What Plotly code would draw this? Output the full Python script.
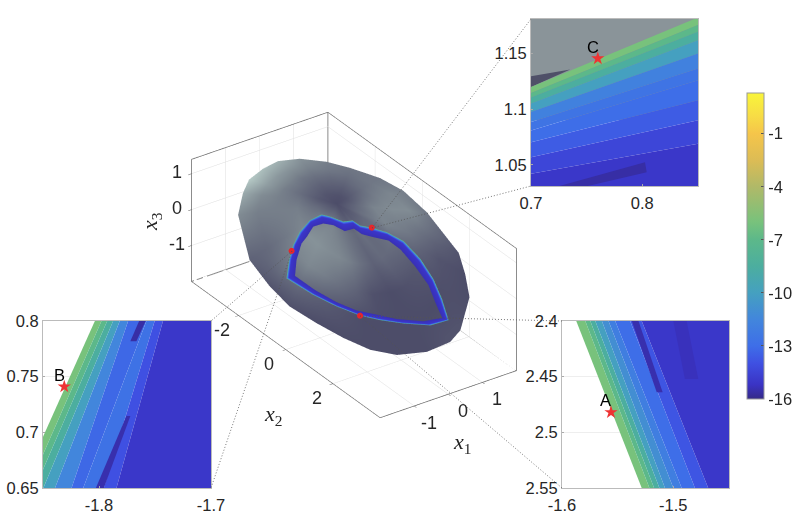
import plotly.graph_objects as go

OUTLINE_X1 = [-.41,-.05,.28,.63,.97,1.22,1.50,1.65,1.67,1.53,1.31,1.03,.41,.09,-.39,-.87,-1.18,-1.39,-1.56,-1.70,-1.69,-1.59,-1.09,-.70]
OUTLINE_X2 = [-3.86,-3.79,-3.63,-3.21,-2.57,-1.93,-1.07,-.29,.68,2.23,2.82,3.41,3.92,3.95,3.66,3.08,2.39,1.56,.66,-.27,-1.13,-2.13,-3.34,-3.70]
DIMPLE = [0.50, -1.45]  # centre of the dark dimple in x1, x2
RINGS = [0, .2, .4, .6, .8, 1]
RING_DEPTH = [-.5, -.2, .1, .2, .15, 0]
SHADE = [  # one row per outline point, from the outer edge to the dimple
 [.95,.6,.35,.22,.08],[.85,.55,.35,.2,.08],[.75,.5,.3,.18,.06],[.5,.38,.25,.14,.05],
 [.35,.3,.2,.12,.04],[.3,.25,.18,.1,.03],[.3,.3,.25,.15,.05],[.35,.4,.35,.25,.1],
 [.3,.45,.45,.38,.18],[.05,.15,.3,.4,.25],[0,.05,.2,.3,.2],[0,.03,.1,.25,.2],
 [.05,0,.05,.2,.2],[.05,0,.03,.2,.25],[0,0,0,.15,.2],[0,0,.03,.25,.25],
 [0,0,.15,.35,.3],[0,.05,.25,.42,.35],[0,.12,.35,.45,.4],[.03,.2,.42,.5,.4],
 [.05,.25,.4,.5,.35],[.15,.2,.3,.4,.3],[.45,.35,.35,.35,.2],[.7,.45,.35,.28,.12]]
BAND_OUT_X1 = [-1.33,-1.02,-.74,-.45,-.13,.12,.21,.33,.48,.51,.65,.80,.91,.89,.78,.61,.39,.05,-.31,-.60,-.82,-1.02,-1.19,-1.33]
BAND_OUT_X2 = [-.94,-1.28,-1.51,-1.65,-1.68,-1.55,-1.33,-.93,-.75,-.49,-.18,.24,.79,1.53,2.24,2.85,3.45,3.17,2.55,1.97,1.44,.75,-.01,-.94]
BAND_IN_X1 = [-1.17,-.91,-.60,-.42,-.18,.01,.13,.21,.378,.41,.53,.70,.74,.70,.62,.45,.33,.01,-.34,-.60,-.79,-.96,-1.09,-1.17]
BAND_IN_X2 = [-.81,-1.12,-1.36,-1.39,-1.47,-1.32,-1.07,-.69,-.547,-.26,.05,.45,.91,1.58,2.25,2.82,3.26,2.93,2.31,1.70,1.27,.65,-.07,-.81]
BAND_FRACTION = [0, .05, .14, .3, 1]
BAND_VALUE = [-6, -9, -13, -15, -15.4]
RED_X1 = [.65, -.85, -.82]
RED_X2 = [-.19, -1.42, 1.44]
PLANE = [.63, -.166]
VIEW = [-.495, .716, .502]
LIFT = .4
BOX_X1 = [-2, 2]
BOX_X2 = [-4, 4]
BOX_X3 = [-2, 1.4]
TICKS_X1 = [-1, 0, 1]
TICKS_X2 = [-2, 0, 2]
TICKS_X3 = [-1, 0, 1]

CB_TICKS = [-1, -4, -7, -10, -13, -16]
CB_SCALE = [(-16,'#352a87'),(-15.2,'#3a33c4'),(-14,'#3f50e2'),(-13,'#3e6ee8'),(-11.5,'#4286dc'),
            (-10,'#45a0c0'),(-8.5,'#4cae9f'),(-7,'#5cb88a'),(-6,'#78c27c'),(-4,'#b0b968'),
            (-2.5,'#dcbc55'),(-1,'#f5c54a'),(0,'#f7dc45'),(1.3,'#f9f53a')]

B_TOP = [-1.8037,-1.7978,-1.7927,-1.7874,-1.7815,-1.774,-1.7577,-1.7503,-1.7429,-1.70]
B_BOT = [-1.8705,-1.8631,-1.8571,-1.8497,-1.8393,-1.8245,-1.8141,-1.7957,-1.7844,-1.70]
B_LEVEL = [-6,-7,-8.5,-10,-11.5,-13.2,-12.7,-14,-15]
B_STRIPES = [([-1.7642,-1.7583,-1.7666,-1.772],[.8,.8,.7817,.7817],-15.6),
             ([-1.7755,-1.772,-1.7957,-1.8028],[.7147,.7147,.65,.65],-15.5)]
B_STAR = (-1.831, .741)
A_TOP = [-1.5872,-1.5791,-1.5746,-1.5701,-1.5642,-1.5582,-1.5522,-1.5388,-1.5284,-1.45]
A_BOT = [-1.5284,-1.5215,-1.5173,-1.5125,-1.5075,-1.5,-1.4925,-1.4806,-1.4687,-1.45]
A_LEVEL = [-6,-7,-8.5,-10,-11,-12,-13,-13.8,-15]
A_STRIPES = [([-1.5373,-1.5313,-1.5096,-1.5149],[2.4,2.4,2.464,2.464],-15.5),
             ([-1.5,-1.4881,-1.4776,-1.4896],[2.4,2.4,2.452,2.452],-15.3)]
A_STAR = (-1.556, 2.482)
C_LEFT = [1.12,1.1146,1.1104,1.105,1.0974,1.0884,1.0809,1.0704,1.0569,1.0419,1.0]
C_RIGHT = [1.1824,1.1755,1.1695,1.162,1.15,1.1365,1.126,1.108,1.09,1.0689,1.0]
C_LEVEL = [-6,-7,-8.5,-10,-11.8,-12.6,-13,-13.6,-14.4,-15]
C_WEDGE = ([.7,.7352,.7], [1.1296,1.1356,1.12])
C_STRIPES = [([.7248,.8024,.8039,.7501],[1.0308,1.0524,1.0434,1.0308],-15.6)]
C_STAR = (.76, 1.1455)

def hex2(c): return [int(c[i:i+2],16) for i in (1,3,5)]
def cval(v):
    for (a,ca),(b,cb) in zip(CB_SCALE, CB_SCALE[1:]):
        if a <= v <= b:
            t=(v-a)/(b-a); A,B=hex2(ca),hex2(cb)
            return 'rgb(%d,%d,%d)'%tuple(A[i]+t*(B[i]-A[i]) for i in range(3))
    return CB_SCALE[-1][1]
PLOTLY_SCALE = [[(v+16)/17.3, c] for v,c in CB_SCALE]

def lifted(a, b, d):
    c = PLANE[0]*a + PLANE[1]*b
    return a+d*VIEW[0], -(b+d*VIEW[1]), c+d*VIEW[2]   # x2 axis runs towards the viewer

fig = go.Figure()
# back edges of the box (x1 max, x2 min, x3 min corner)
cx, cy, cz = BOX_X1[1], -BOX_X2[0], BOX_X3[0]
fig.add_scatter3d(x=[BOX_X1[0],cx,BOX_X1[1],cx,cx],y=[cy,cy,-BOX_X2[1],cy,cy],z=[cz,cz,cz,cz,BOX_X3[1]],
    mode='lines',line=dict(color='#8a8a8a',width=2),hoverinfo='skip',showlegend=False)
# torus body
sx, sy, sz, sc = [], [], [], []
for r, (f, d) in enumerate(zip(RINGS, RING_DEPTH)):
    rx, ry, rz, rc = [], [], [], []
    for i in list(range(len(OUTLINE_X1)))+[0]:
        a = DIMPLE[0]+f*(OUTLINE_X1[i]-DIMPLE[0]); b = DIMPLE[1]+f*(OUTLINE_X2[i]-DIMPLE[1])
        p = lifted(a,b,d); rx.append(p[0]); ry.append(p[1]); rz.append(p[2])
        rc.append(0 if r==0 else SHADE[i][len(RINGS)-1-r])
    sx.append(rx); sy.append(ry); sz.append(rz); sc.append(rc)
fig.add_surface(x=sx,y=sy,z=sz,surfacecolor=sc,cmin=0,cmax=1,showscale=False,hoverinfo='skip',
    colorscale=[[0,'#4d4d69'],[.4,'#7c868f'],[1,'#bbd0cb']],
    lighting=dict(ambient=1,diffuse=0,specular=0,roughness=1,fresnel=0))
# band with colour bar
bx, by, bz, bc = [], [], [], []
for f, v in zip(BAND_FRACTION, BAND_VALUE):
    rx, ry, rz = [], [], []
    for ao, bo, ai, bi in zip(BAND_OUT_X1,BAND_OUT_X2,BAND_IN_X1,BAND_IN_X2):
        p = lifted(ao+f*(ai-ao), bo+f*(bi-bo), LIFT); rx.append(p[0]); ry.append(p[1]); rz.append(p[2])
    bx.append(rx); by.append(ry); bz.append(rz); bc.append([v]*len(rx))
fig.add_surface(x=bx,y=by,z=bz,surfacecolor=bc,cmin=-16,cmax=1.3,colorscale=PLOTLY_SCALE,hoverinfo='skip',
    lighting=dict(ambient=1,diffuse=0,specular=0,roughness=1,fresnel=0),
    colorbar=dict(x=747/800,xanchor='left',xpad=0,ypad=0,y=1-246/517,yanchor='middle',
        thicknessmode='pixels',thickness=17,lenmode='pixels',len=306,
        tickvals=CB_TICKS,ticktext=[str(t) for t in CB_TICKS],ticks='inside',ticklen=3,tickcolor='#555',
        outlinecolor='#999',outlinewidth=1,tickfont=dict(family='Liberation Sans',size=16.5,color='#262626')))
# red points on the band
pts=[lifted(a,b,LIFT+.1) for a,b in zip(RED_X1,RED_X2)]
fig.add_scatter3d(x=[p[0] for p in pts],y=[p[1] for p in pts],z=[p[2] for p in pts],mode='markers',
    marker=dict(size=3.5,color='#e8262a',line=dict(width=0)),hoverinfo='skip',showlegend=False)

def strip(xaxis,yaxis,xs,ys,v=None,color=None):
    fig.add_scatter(x=xs,y=ys,xaxis=xaxis,yaxis=yaxis,mode='lines',line=dict(width=0),fill='toself',
        fillcolor=color or cval(v),hoverinfo='skip',showlegend=False)
stars=[]
def star(xaxis,yaxis,p,label):
    fig.add_scatter(x=[p[0]],y=[p[1]],xaxis=xaxis,yaxis=yaxis,mode='markers',
        marker=dict(symbol='star',size=10,color='#ee3333',line=dict(width=0)),hoverinfo='skip',showlegend=False,cliponaxis=False)
    stars.append(dict(x=p[0],y=p[1],xref=xaxis,yref=yaxis,text=label,showarrow=False,xanchor='center',yanchor='middle',
        xshift=-5,yshift=12,font=dict(family='Liberation Sans',size=16.5,color='black')))

# inset B
for i,v in enumerate(B_LEVEL):
    strip('x2','y2',[B_TOP[i],B_TOP[i+1],B_BOT[i+1],B_BOT[i]],[.8,.8,.65,.65],v)
for xs,ys,v in B_STRIPES: strip('x2','y2',xs,ys,v)
star('x2','y2',B_STAR,'B')
# inset A
for i,v in enumerate(A_LEVEL):
    strip('x3','y3',[A_TOP[i],A_TOP[i+1],A_BOT[i+1],A_BOT[i]],[2.4,2.4,2.55,2.55],v)
for xs,ys,v in A_STRIPES: strip('x3','y3',xs,ys,v)
star('x3','y3',A_STAR,'A')
# inset C
strip('x4','y4',[.7,.85,.85,.7],[1.19,1.19,C_LEFT[0]-.03,C_LEFT[0]-.03],color='#8a9499')
strip('x4','y4',C_WEDGE[0],C_WEDGE[1],color='#4f5068')
for i,v in enumerate(C_LEVEL):
    strip('x4','y4',[.7,.85,.85,.7],[C_LEFT[i],C_RIGHT[i],C_RIGHT[i+1],C_LEFT[i+1]],v)
for xs,ys,v in C_STRIPES: strip('x4','y4',xs,ys,v)
star('x4','y4',C_STAR,'C')

W,H=800,517
F=dict(family='Liberation Sans',size=16.5,color='#262626')
def cart(px0,px1,rng,tv,tt=None):
    return dict(domain=[px0/W,px1/W],range=rng,tickvals=tv,ticktext=tt or [str(t) for t in tv],ticks='inside',ticklen=2,ticklabelstandoff=2,
      tickcolor='#aaa',showline=True,mirror=True,linecolor='#bbb',linewidth=1,gridcolor='#eeeeee',zeroline=False,tickfont=F,layer='above traces')
def carty(py0,py1,rng,tv,tt=None):
    return dict(domain=[1-py1/H,1-py0/H],range=rng,tickvals=tv,ticktext=tt or [str(t) for t in tv],ticks='inside',ticklen=2,
      tickcolor='#aaa',showline=True,mirror=True,linecolor='#bbb',linewidth=1,gridcolor='#eeeeee',zeroline=False,tickfont=F,layer='above traces')
ax3=dict(showbackground=False,showgrid=True,gridcolor='#dddddd',gridwidth=1,showline=True,linecolor='#666',linewidth=1.5,
    mirror=True,zeroline=False,showspikes=False,ticks='inside',ticklen=4,tickcolor='#555',title=dict(text=''),showticklabels=False)
def tick3(x,y,z,t,dx,dy):
    return dict(x=x,y=y,z=z,text=t,showarrow=False,xanchor='center',yanchor='middle',xshift=dx,yshift=dy,
                font=dict(family='Liberation Sans',size=18,color='#262626'))
E=3.0
K=.658
scene=dict(domain=dict(x=[.0006,.886],y=[0,504/517]),aspectmode='manual',aspectratio=dict(x=K,y=2*K,z=.85*K),
    camera=dict(projection=dict(type='orthographic'),up=dict(x=0,y=0,z=1),center=dict(x=0,y=0,z=0),
                eye=dict(x=E*VIEW[0],y=-E*VIEW[1],z=E*VIEW[2])),
    xaxis=dict(ax3,range=BOX_X1,tickvals=TICKS_X1),
    yaxis=dict(ax3,range=[-BOX_X2[1],-BOX_X2[0]],tickvals=[-t for t in TICKS_X2]),
    zaxis=dict(ax3,range=BOX_X3,tickvals=TICKS_X3),
    annotations=[tick3(t,-BOX_X2[1],BOX_X3[0],str(t),14,-17) for t in TICKS_X1]
               +[tick3(BOX_X1[0],-t,BOX_X3[0],str(t),-17,-14) for t in TICKS_X2]
               +[tick3(BOX_X1[0],-BOX_X2[0],t,str(t),-15,2) for t in TICKS_X3],
    bgcolor='rgba(0,0,0,0)')
def link(x0,y0,x1,y1):
    return dict(type='line',xref='paper',yref='paper',x0=x0/W,y0=1-y0/H,x1=x1/W,y1=1-y1/H,layer='above',
                line=dict(color='#555',width=.8,dash='1px,2px'))
def lab(x,y,t,rot=0):
    return dict(x=x/W,y=1-y/H,xref='paper',yref='paper',text=t,showarrow=False,textangle=rot,xanchor='center',yanchor='middle',
                font=dict(family='Liberation Serif',size=22,color='#262626'))
fig.update_layout(width=W,height=H,margin=dict(l=0,r=0,t=0,b=0,autoexpand=False),paper_bgcolor='white',plot_bgcolor='white',showlegend=False,
    scene=scene,
    xaxis2=cart(43,211,[-1.85,-1.7],[-1.8,-1.7]),yaxis2=dict(carty(321,488,[.65,.8],[.65,.7,.75,.8],['0.65','0.7','0.75','0.8']),anchor='x2'),
    xaxis3=cart(562,729,[-1.6,-1.45],[-1.6,-1.5]),yaxis3=dict(carty(321,488,[2.55,2.4],[2.4,2.45,2.5,2.55]),anchor='x3'),
    xaxis4=cart(531,698,[.7,.85],[.7,.8]),yaxis4=dict(carty(19,186,[1.031,1.181],[1.05,1.1,1.15]),anchor='x4'),
    shapes=[link(360,316,562,321),link(360,316,562,488),link(292,251,211,321),link(292,251,211,488),link(372,228,531,19),link(372,228,531,186)],
    annotations=stars+[lab(462,443,'<i>x</i><sub>1</sub>'),lab(273,415,'<i>x</i><sub>2</sub>'),lab(151,222,'<i>x</i><sub>3</sub>',-90)])
for k,a in (('xaxis2','y2'),('xaxis3','y3'),('xaxis4','y4')):
    fig.layout[k].anchor=a
fig.write_html('out.html',config=dict(displayModeBar=False),post_script="document.body.style.margin='0';")
